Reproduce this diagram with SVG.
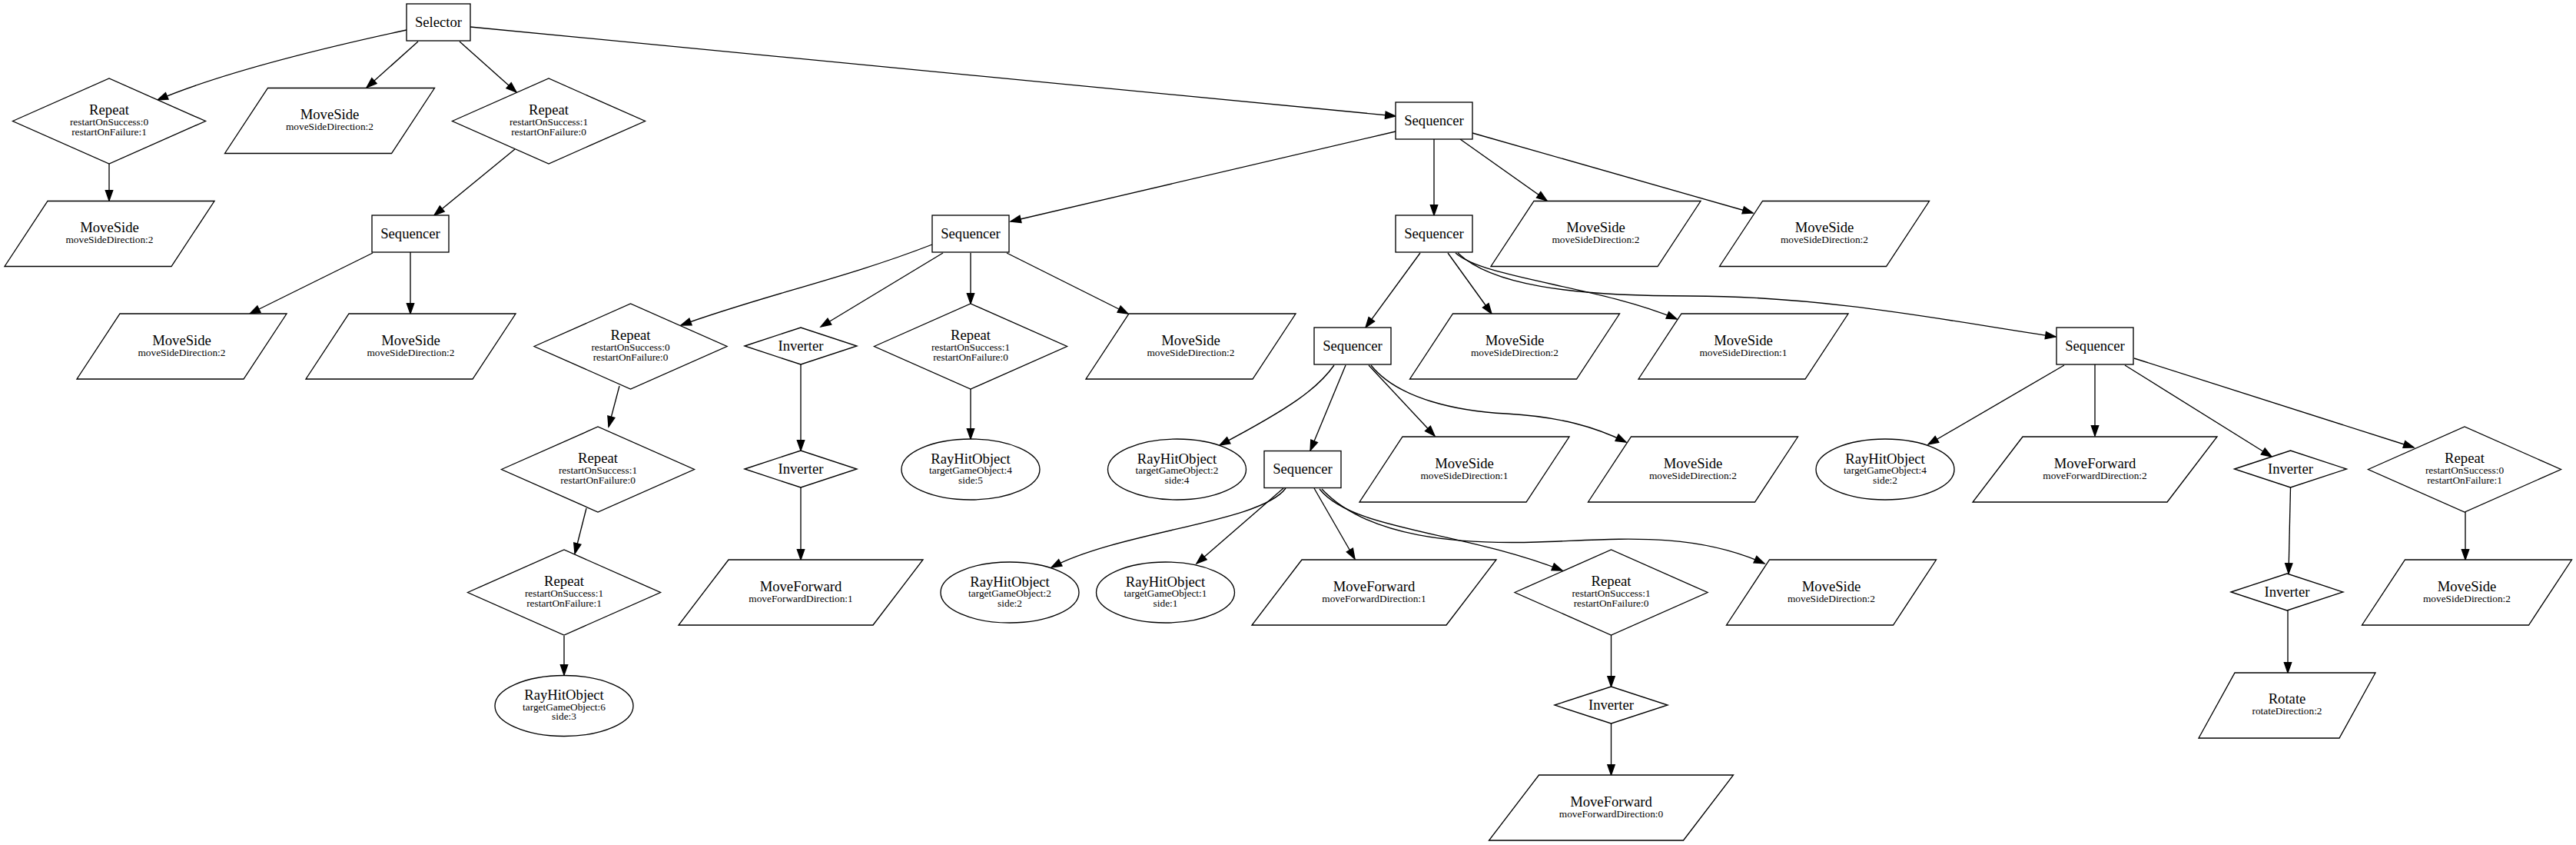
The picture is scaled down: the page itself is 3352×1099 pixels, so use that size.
<svg xmlns="http://www.w3.org/2000/svg" width="3352" height="1099" viewBox="0 0 3352 1099">
<style>
.n polygon,.n rect,.n ellipse{fill:#fff;stroke:#000;stroke-width:1.33}
.e path{fill:none;stroke:#000;stroke-width:1.33;marker-end:url(#arr)}
text{font-family:"Liberation Serif","Times New Roman",serif;text-anchor:middle;fill:#000}
.t{font-size:18.67px}
.s{font-size:13.33px}
</style>
<defs>
<marker id="arr" viewBox="-2 -2 18 13.34" refX="13.3" refY="4.67" markerWidth="18" markerHeight="13.34" markerUnits="userSpaceOnUse" orient="auto">
<path d="M0,0 L13.3,4.67 L0,9.34 Z" fill="#000" stroke="#000" stroke-width="1.33"/>
</marker>
</defs>
<rect width="3352" height="1099" fill="#fff"/>
<g id="edges" class="e">
<path d="M529,39 C450,56 300,90 205,130"/>
<path d="M544,54 L477,114"/>
<path d="M598,54 L672,120"/>
<path d="M612,35 L1816,151"/>
<path d="M142,213 L142,261"/>
<path d="M670,194 L565,280"/>
<path d="M485,329 L325,408"/>
<path d="M534,328 L534,408"/>
<path d="M1816,171 L1315,288"/>
<path d="M1866,181 L1866,280"/>
<path d="M1900,181 L2013,261"/>
<path d="M1916,173 L2281,277"/>
<path d="M1213,318 C1100,362 990,385 886,423"/>
<path d="M1227,329 L1068,425"/>
<path d="M1263,329 L1263,395"/>
<path d="M1310,329 L1468,408"/>
<path d="M806,502 L792,555"/>
<path d="M763,661 L748,720"/>
<path d="M734,827 L734,878"/>
<path d="M1042,474 L1042,586"/>
<path d="M1042,634 L1042,728"/>
<path d="M1263,506 L1263,571"/>
<path d="M1848,329 L1777,426"/>
<path d="M1884,329 L1941,408"/>
<path d="M1894,329 C1930,362 2080,372 2182,415"/>
<path d="M1897,329 C1940,370 2040,385 2200,385 C2380,385 2550,420 2675,438"/>
<path d="M1736,475 C1715,505 1680,530 1587,579"/>
<path d="M1751,475 L1705,586"/>
<path d="M1781,475 L1867,567"/>
<path d="M1784,475 C1820,520 1900,535 1960,538 C2030,542 2075,555 2116,575"/>
<path d="M2686,475 L2509,578"/>
<path d="M2726,474 L2726,567"/>
<path d="M2765,475 L2956,594"/>
<path d="M2777,466 L3141,582"/>
<path d="M1673,635 C1640,680 1460,690 1368,738"/>
<path d="M1670,635 L1557,733"/>
<path d="M1710,635 L1763,727"/>
<path d="M1717,636 C1760,690 1900,690 2033,742"/>
<path d="M1720,636 C1780,700 1900,708 2000,705 C2100,702 2200,690 2296,733"/>
<path d="M2096.5,826 L2096.5,893"/>
<path d="M2096.5,941 L2096.5,1008"/>
<path d="M2980.5,634 L2978,746"/>
<path d="M2977,794 L2977,875"/>
<path d="M3208,666 L3208,728"/>
</g>

<g id="selector" class="n"><rect x="529" y="5" width="83" height="48"/><text class="t" x="570.5" y="34.5">Selector</text></g>

<g id="repeatA" class="n"><polygon points="16.5,157.5 142,102 267.5,157.5 142,213"/><text class="t" x="142" y="149">Repeat</text><text class="s" x="142" y="163">restartOnSuccess:0</text><text class="s" x="142" y="175.5">restartOnFailure:1</text></g>
<g id="moveSide1" class="n"><polygon points="348.5,114.5 565.5,114.5 509.5,199.5 292.5,199.5"/><text class="t" x="429" y="155">MoveSide</text><text class="s" x="429" y="169">moveSideDirection:2</text></g>
<g id="repeatB" class="n"><polygon points="588.5,157.5 714,102 839.5,157.5 714,213"/><text class="t" x="714" y="149">Repeat</text><text class="s" x="714" y="163">restartOnSuccess:1</text><text class="s" x="714" y="175.5">restartOnFailure:0</text></g>
<g id="sequencerTop" class="n"><rect x="1816" y="133" width="100" height="48"/><text class="t" x="1866" y="162.5">Sequencer</text></g>

<g id="moveSideA" class="n"><polygon points="62,261.5 279,261.5 223,346.5 6,346.5"/><text class="t" x="142.5" y="302">MoveSide</text><text class="s" x="142.5" y="316">moveSideDirection:2</text></g>
<g id="sequencer1" class="n"><rect x="484" y="280" width="100" height="48"/><text class="t" x="534" y="309.5">Sequencer</text></g>
<g id="sequencerM" class="n"><rect x="1213" y="280" width="100" height="48"/><text class="t" x="1263" y="309.5">Sequencer</text></g>
<g id="sequencerR" class="n"><rect x="1816" y="280" width="100" height="48"/><text class="t" x="1866" y="309.5">Sequencer</text></g>
<g id="moveSideT1" class="n"><polygon points="1996,261.5 2213,261.5 2157,346.5 1940,346.5"/><text class="t" x="2076.5" y="302">MoveSide</text><text class="s" x="2076.5" y="316">moveSideDirection:2</text></g>
<g id="moveSideT2" class="n"><polygon points="2293.5,261.5 2510.5,261.5 2454.5,346.5 2237.5,346.5"/><text class="t" x="2374" y="302">MoveSide</text><text class="s" x="2374" y="316">moveSideDirection:2</text></g>

<g id="moveSideB" class="n"><polygon points="156,408 373,408 317,493 100,493"/><text class="t" x="236.5" y="448.5">MoveSide</text><text class="s" x="236.5" y="462.5">moveSideDirection:2</text></g>
<g id="moveSideC" class="n"><polygon points="454,408 671,408 615,493 398,493"/><text class="t" x="534.5" y="448.5">MoveSide</text><text class="s" x="534.5" y="462.5">moveSideDirection:2</text></g>
<g id="repeat00" class="n"><polygon points="695,450.5 820.5,395 946,450.5 820.5,506"/><text class="t" x="820.5" y="442">Repeat</text><text class="s" x="820.5" y="456">restartOnSuccess:0</text><text class="s" x="820.5" y="468.5">restartOnFailure:0</text></g>
<g id="inverter1" class="n"><polygon points="969,450 1042,426 1115,450 1042,474"/><text class="t" x="1042" y="456">Inverter</text></g>
<g id="repeat10m" class="n"><polygon points="1137.5,450.5 1263,395 1388.5,450.5 1263,506"/><text class="t" x="1263" y="442">Repeat</text><text class="s" x="1263" y="456">restartOnSuccess:1</text><text class="s" x="1263" y="468.5">restartOnFailure:0</text></g>
<g id="moveSideM" class="n"><polygon points="1469,408 1686,408 1630,493 1413,493"/><text class="t" x="1549.5" y="448.5">MoveSide</text><text class="s" x="1549.5" y="462.5">moveSideDirection:2</text></g>
<g id="sequencerL3" class="n"><rect x="1710" y="426" width="100" height="48"/><text class="t" x="1760" y="455.5">Sequencer</text></g>
<g id="moveSideL3a" class="n"><polygon points="1890.5,408 2107.5,408 2051.5,493 1834.5,493"/><text class="t" x="1971" y="448.5">MoveSide</text><text class="s" x="1971" y="462.5">moveSideDirection:2</text></g>
<g id="moveSideL3b" class="n"><polygon points="2188,408 2405,408 2349,493 2132,493"/><text class="t" x="2268.5" y="448.5">MoveSide</text><text class="s" x="2268.5" y="462.5">moveSideDirection:1</text></g>
<g id="sequencerRR" class="n"><rect x="2676" y="426" width="100" height="48"/><text class="t" x="2726" y="455.5">Sequencer</text></g>

<g id="repeat10b" class="n"><polygon points="652.5,610.5 778,555 903.5,610.5 778,666"/><text class="t" x="778" y="602">Repeat</text><text class="s" x="778" y="616">restartOnSuccess:1</text><text class="s" x="778" y="628.5">restartOnFailure:0</text></g>
<g id="inverter2" class="n"><polygon points="969,610 1042,586 1115,610 1042,634"/><text class="t" x="1042" y="616">Inverter</text></g>
<g id="rayHit45" class="n"><ellipse cx="1263" cy="610.5" rx="90" ry="39.5"/><text class="t" x="1263" y="602.5">RayHitObject</text><text class="s" x="1263" y="616">targetGameObject:4</text><text class="s" x="1263" y="628.5">side:5</text></g>
<g id="rayHit24" class="n"><ellipse cx="1531.5" cy="610.5" rx="90" ry="39.5"/><text class="t" x="1531.5" y="602.5">RayHitObject</text><text class="s" x="1531.5" y="616">targetGameObject:2</text><text class="s" x="1531.5" y="628.5">side:4</text></g>
<g id="sequencer4" class="n"><rect x="1645" y="586.5" width="100" height="48"/><text class="t" x="1695" y="616">Sequencer</text></g>
<g id="moveSideL4a" class="n"><polygon points="1825,568 2042,568 1986,653 1769,653"/><text class="t" x="1905.5" y="608.5">MoveSide</text><text class="s" x="1905.5" y="622.5">moveSideDirection:1</text></g>
<g id="moveSideL4b" class="n"><polygon points="2122.5,568 2339.5,568 2283.5,653 2066.5,653"/><text class="t" x="2203" y="608.5">MoveSide</text><text class="s" x="2203" y="622.5">moveSideDirection:2</text></g>
<g id="rayHit42" class="n"><ellipse cx="2453" cy="610.5" rx="90" ry="39.5"/><text class="t" x="2453" y="602.5">RayHitObject</text><text class="s" x="2453" y="616">targetGameObject:4</text><text class="s" x="2453" y="628.5">side:2</text></g>
<g id="moveForward2" class="n"><polygon points="2632,568 2885,568 2820,653 2567,653"/><text class="t" x="2726" y="608.5">MoveForward</text><text class="s" x="2726" y="622.5">moveForwardDirection:2</text></g>
<g id="inverterR1" class="n"><polygon points="2907.5,610 2980.5,586 3053.5,610 2980.5,634"/><text class="t" x="2980.5" y="616">Inverter</text></g>
<g id="repeatR" class="n"><polygon points="3081.5,610.5 3207,555 3332.5,610.5 3207,666"/><text class="t" x="3207" y="602">Repeat</text><text class="s" x="3207" y="616">restartOnSuccess:0</text><text class="s" x="3207" y="628.5">restartOnFailure:1</text></g>

<g id="repeat11" class="n"><polygon points="608.5,770.5 734,715 859.5,770.5 734,826"/><text class="t" x="734" y="762">Repeat</text><text class="s" x="734" y="776">restartOnSuccess:1</text><text class="s" x="734" y="788.5">restartOnFailure:1</text></g>
<g id="moveForward1" class="n"><polygon points="948,728 1201,728 1136,813 883,813"/><text class="t" x="1042" y="768.5">MoveForward</text><text class="s" x="1042" y="782.5">moveForwardDirection:1</text></g>
<g id="rayHit22" class="n"><ellipse cx="1314" cy="770.5" rx="90" ry="39.5"/><text class="t" x="1314" y="762.5">RayHitObject</text><text class="s" x="1314" y="776">targetGameObject:2</text><text class="s" x="1314" y="788.5">side:2</text></g>
<g id="rayHit11" class="n"><ellipse cx="1516.5" cy="770.5" rx="90" ry="39.5"/><text class="t" x="1516.5" y="762.5">RayHitObject</text><text class="s" x="1516.5" y="776">targetGameObject:1</text><text class="s" x="1516.5" y="788.5">side:1</text></g>
<g id="moveForwardL5" class="n"><polygon points="1694,728 1947,728 1882,813 1629,813"/><text class="t" x="1788" y="768.5">MoveForward</text><text class="s" x="1788" y="782.5">moveForwardDirection:1</text></g>
<g id="repeatL5" class="n"><polygon points="1971,770.5 2096.5,715 2222,770.5 2096.5,826"/><text class="t" x="2096.5" y="762">Repeat</text><text class="s" x="2096.5" y="776">restartOnSuccess:1</text><text class="s" x="2096.5" y="788.5">restartOnFailure:0</text></g>
<g id="moveSideL5" class="n"><polygon points="2302.5,728 2519.5,728 2463.5,813 2246.5,813"/><text class="t" x="2383" y="768.5">MoveSide</text><text class="s" x="2383" y="782.5">moveSideDirection:2</text></g>
<g id="inverterR2" class="n"><polygon points="2903,770 2976,746 3049,770 2976,794"/><text class="t" x="2976" y="776">Inverter</text></g>
<g id="moveSideR" class="n"><polygon points="3129.5,728 3346.5,728 3290.5,813 3073.5,813"/><text class="t" x="3210" y="768.5">MoveSide</text><text class="s" x="3210" y="782.5">moveSideDirection:2</text></g>

<g id="rayHit63" class="n"><ellipse cx="734" cy="918" rx="90" ry="39.5"/><text class="t" x="734" y="910">RayHitObject</text><text class="s" x="734" y="923.5">targetGameObject:6</text><text class="s" x="734" y="936">side:3</text></g>
<g id="inverterL6" class="n"><polygon points="2023,917 2096.5,893 2170,917 2096.5,941"/><text class="t" x="2096.5" y="923">Inverter</text></g>
<g id="rotate" class="n"><polygon points="2908,875 3091,875 3044,960 2861,960"/><text class="t" x="2976" y="915">Rotate</text><text class="s" x="2976" y="929">rotateDirection:2</text></g>
<g id="moveForwardL7" class="n"><polygon points="2002.5,1008 2255.5,1008 2190.5,1093 1937.5,1093"/><text class="t" x="2096.5" y="1048.5">MoveForward</text><text class="s" x="2096.5" y="1062.5">moveForwardDirection:0</text></g>
</svg>
